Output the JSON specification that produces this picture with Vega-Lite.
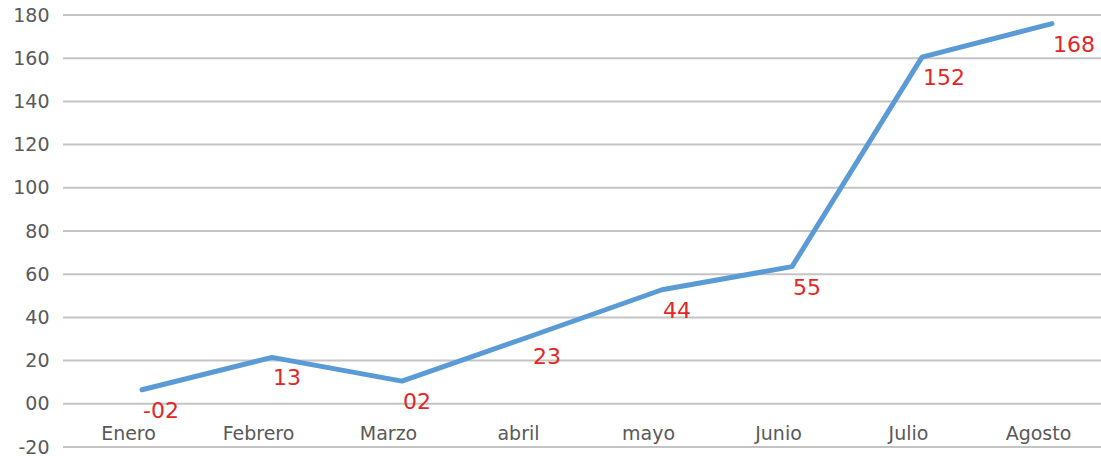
{
  "$schema": "https://vega.github.io/schema/vega-lite/v6.json",
  "autosize": "none",
  "width": 1040,
  "height": 432,
  "padding": {"left": 63, "top": 15, "right": 0, "bottom": 12},
  "background": "white",
  "config": {"view": {"stroke": null}, "font": "DejaVu Sans"},
  "datasets": {
    "serie": [
      {"mes": "Enero", "valor": 6.5, "etiqueta": "-02"},
      {"mes": "Febrero", "valor": 21.5, "etiqueta": "13"},
      {"mes": "Marzo", "valor": 10.5, "etiqueta": "02"},
      {"mes": "abril", "valor": 31.5, "etiqueta": "23"},
      {"mes": "mayo", "valor": 52.8, "etiqueta": "44"},
      {"mes": "Junio", "valor": 63.5, "etiqueta": "55"},
      {"mes": "Julio", "valor": 160.5, "etiqueta": "152"},
      {"mes": "Agosto", "valor": 176, "etiqueta": "168"}
    ],
    "rejilla": [
      {"valor": -20}, {"valor": 0}, {"valor": 20}, {"valor": 40}, {"valor": 60}, {"valor": 80},
      {"valor": 100}, {"valor": 120}, {"valor": 140}, {"valor": 160}, {"valor": 180}
    ]
  },
  "layer": [
    {
      "data": {"name": "rejilla"},
      "mark": {"type": "rule", "color": "#c4c4c4", "strokeWidth": 2},
      "encoding": {
        "y": {
          "field": "valor",
          "type": "quantitative",
          "scale": {"domain": [-20, 180], "nice": false, "zero": false},
          "axis": {
            "title": null,
            "values": [-20, 0, 20, 40, 60, 80, 100, 120, 140, 160, 180],
            "labelExpr": "datum.value == 0 ? '00' : '' + datum.value",
            "domain": false,
            "ticks": false,
            "tickSize": 0,
            "labelPadding": 14,
            "labelFontSize": 19,
            "labelColor": "#595959",
            "labelFont": "DejaVu Sans",
            "grid": false
          }
        }
      }
    },
    {
      "data": {"name": "serie"},
      "encoding": {
        "x": {
          "field": "mes",
          "type": "nominal",
          "sort": null,
          "scale": {"paddingInner": 0, "paddingOuter": 0, "range": [14, 1054]},
          "axis": {
            "title": null,
            "labelAngle": 0,
            "labelOffset": -14,
            "domain": false,
            "ticks": false,
            "tickSize": 0,
            "grid": false,
            "offset": -43,
            "labelPadding": 20,
            "labelFontSize": 19,
            "labelColor": "#595959",
            "labelFont": "DejaVu Sans"
          }
        },
        "y": {"field": "valor", "type": "quantitative"}
      },
      "layer": [
        {
          "mark": {"type": "line", "color": "#5B9BD5", "strokeWidth": 5, "strokeCap": "round", "strokeJoin": "round"}
        },
        {
          "mark": {"type": "text", "align": "left", "baseline": "middle", "dx": 1, "dy": 21, "fontSize": 22, "color": "#E32626", "font": "DejaVu Sans"},
          "encoding": {"text": {"field": "etiqueta", "type": "nominal"}}
        }
      ]
    }
  ]
}
